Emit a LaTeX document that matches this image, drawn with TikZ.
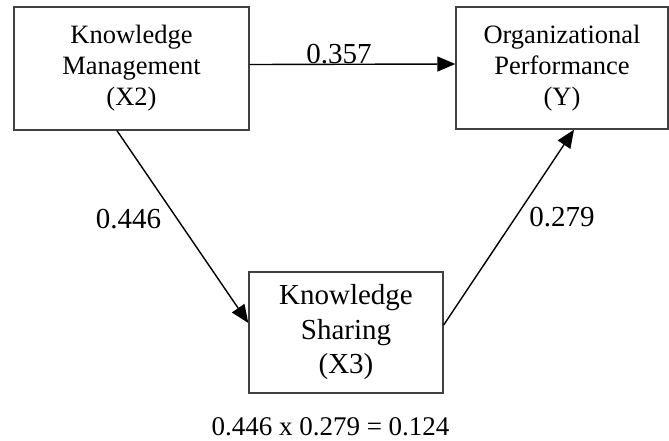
\documentclass[tikz,border=0pt]{standalone}
\usepackage{fontspec}
\setmainfont{Liberation Serif}
\usetikzlibrary{arrows.meta}
\begin{document}
\begin{tikzpicture}[x=1pt,y=-1pt,
  boxnode/.style={draw=black!75, line width=1.4pt, align=center, inner sep=0pt,
    font=\fontsize{26.5}{31}\selectfont},
  lbl/.style={font=\fontsize{29}{34.5}\selectfont, inner sep=0pt, anchor=base},
  conn/.style={line width=1.4pt, -{Triangle[length=18pt,width=15pt]}}]
\useasboundingbox (0,0) rectangle (669,440);
\node[boxnode, minimum width=235pt, minimum height=123pt] (km) at (131.5,68.5)
  {Knowledge\\Management\\(X2)};
\node[boxnode, minimum width=212pt, minimum height=122pt] (op) at (562,68)
  {Organizational\\Performance\\(Y)};
\node[boxnode, minimum width=194pt, minimum height=121pt,
  font=\fontsize{29}{34.5}\selectfont] (ks) at (346,332.5)
  {Knowledge\\Sharing\\(X3)};
\draw[conn] ([yshift=4pt]km.east) -- ([yshift=4pt]op.west);
\draw[conn] ([xshift=-14.5pt]km.south) -- ([yshift=9.5pt]ks.west);
\draw[conn] ([yshift=7.5pt]ks.east) -- ([xshift=12pt]op.south);
\node[lbl] (l1) at (339,63) {0.357};
\node[lbl] (l2) at (128.5,228) {0.446};
\node[lbl] (l3) at (562,226) {0.279};
\node[lbl, font=\fontsize{27}{32}\selectfont] (l4) at (330.5,435) {0.446 x 0.279 = 0.124};
\end{tikzpicture}
\end{document}
